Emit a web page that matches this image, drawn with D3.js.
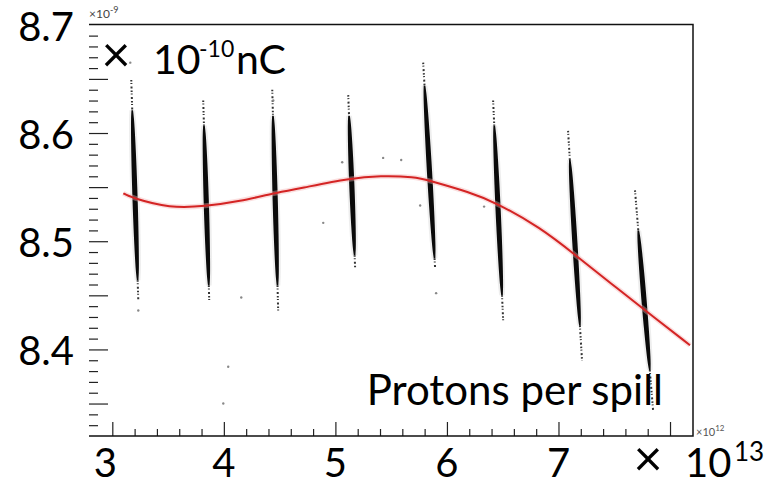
<!DOCTYPE html>
<html>
<head>
<meta charset="utf-8">
<script src="https://cdn.jsdelivr.net/npm/d3@7"></script>
<style>
  body { margin: 0; background: #fff; }
  svg { display: block; }
  text { font-family: Lato, "Open Sans", sans-serif; }
</style>
</head>
<body>
<div id="chart"></div>
<script>
// protons per spill (x 10^12) and charge (x 10^-9, shown as x 10^-10 nC)
// one band of spills per beam setting: centre at top / bottom of the band
const bandXTop = [31.7, 38.15, 44.34, 51.15, 57.87, 64.14, 70.86, 76.86];
const bandXBot = [32.33, 38.69, 44.87, 51.77, 58.94, 65.04, 72.11, 78.48];
// dense core of each band
const coreTop = [8.621, 8.607, 8.616, 8.616, 8.644, 8.607, 8.575, 8.510];
const coreBot = [8.464, 8.459, 8.459, 8.487, 8.484, 8.450, 8.422, 8.381];
// sparse tails
const tailTop = [8.649, 8.630, 8.640, 8.635, 8.665, 8.630, 8.602, 8.547];
const tailBot = [8.445, 8.445, 8.436, 8.475, 8.475, 8.427, 8.390, 8.344];

// stray spills
const strayX = [31.61, 44.43, 50.61, 54.28, 55.9, 48.91, 57.6, 59.03, 63.33, 40.39, 41.56, 32.33, 39.95];
const strayY = [8.665, 8.63, 8.573, 8.577, 8.575, 8.517, 8.533, 8.452, 8.532, 8.384, 8.448, 8.436, 8.35];

// red fit curve
const fitX = [30.99, 31.61, 35.2, 38.33, 41.47, 44.43, 46.85, 51.33, 54.01, 57.15, 58.32, 62.08, 64.32, 68.35, 71.67, 74.8, 77.76, 81.79];
const fitY = [8.5443, 8.5406, 8.5304, 8.5323, 8.5369, 8.5443, 8.5489, 8.5582, 8.5605, 8.5595, 8.5563, 8.5452, 8.536, 8.5129, 8.486, 8.4602, 8.4362, 8.4039];

// big overlay labels
const yLabels = [8.4, 8.5, 8.6, 8.7];
const xLabels = [3, 4, 5, 6, 7];
// ROOT axis ticks
const xMajor = [30, 40, 50, 60, 70, 80];
const yMajor = [8.35, 8.4, 8.45, 8.5, 8.55, 8.6, 8.65];

const width = 772, height = 486;

const svg = d3.select("#chart").append("svg")
    .attr("width", width)
    .attr("height", height);

svg.append("rect").attr("width", width).attr("height", height).attr("fill", "#fff");

const x = d3.scaleLinear().domain([28.0, 82.06]).range([90, 693]);
const y = d3.scaleLinear().domain([8.32, 8.7]).range([436, 24.8]);

const xMinor = d3.range(30, 81, 2).filter(v => !xMajor.includes(v));
const yMinor = d3.range(833, 870).map(v => v / 100).filter(v => !yMajor.some(m => Math.abs(m - v) < 1e-6));

// ---- axes (ROOT style, ticks inside) ----
function tickAxis(axis, vals, size, tr) {
    const g = svg.append("g")
        .attr("transform", tr)
        .call(axis.tickValues(vals).tickSize(size).tickFormat(""));
    g.select(".domain").remove();
    g.selectAll(".tick line").attr("stroke", "#222").attr("stroke-width", 1.2);
    return g;
}
tickAxis(d3.axisBottom(x), xMajor, -14, "translate(0,436)");
tickAxis(d3.axisBottom(x), xMinor, -7, "translate(0,436)");
tickAxis(d3.axisLeft(y), yMajor, -19, "translate(89,0)");
tickAxis(d3.axisLeft(y), yMinor, -9, "translate(89,0)");

// frame: top, right, bottom
svg.append("path")
    .attr("d", `M89,24.5H693V436H89`)
    .attr("fill", "none")
    .attr("stroke", "#111")
    .attr("stroke-width", 1.5);

// ---- bands of spills ----
const bands = bandXTop.map((xt, i) => ({
    xt, xb: bandXBot[i], ct: coreTop[i], cb: coreBot[i], tt: tailTop[i], tb: tailBot[i]
}));
// x position along a band for a given charge
function bandAt(b, v) {
    const t = (b.tt - v) / (b.tt - b.tb);
    return b.xt + (b.xb - b.xt) * t;
}

const bandG = svg.append("g");
const steps = d3.range(0, 1.0001, 0.05);
const area = d3.area()
    .curve(d3.curveBasis)
    .x0(d => d.px - d.w)
    .x1(d => d.px + d.w)
    .y(d => d.py);

bands.forEach(b => {
    const pts = steps.map(t => {
        const v = b.ct + (b.cb - b.ct) * t;
        return { px: x(bandAt(b, v)), py: y(v), w: 0.8 + 1.8 * Math.sqrt(Math.sin(Math.PI * t)) };
    });
    // grey halo
    bandG.append("path")
        .attr("d", area(pts.map(p => ({ ...p, w: p.w + 2 }))))
        .attr("fill", "#bbb")
        .attr("opacity", 0.25);
    // tails
    [[b.tt, b.ct], [b.cb, b.tb]].forEach(([a, c]) => {
        bandG.append("line")
            .attr("x1", x(bandAt(b, a))).attr("y1", y(a))
            .attr("x2", x(bandAt(b, c))).attr("y2", y(c))
            .attr("stroke", "#333")
            .attr("stroke-width", 2)
            .attr("stroke-dasharray", "1.5 1.5 1 2.5 2 2");
    });
    // dense core
    bandG.append("path")
        .attr("d", area(pts))
        .attr("fill", "#0a0a0a");
});

// stray spills
svg.append("g").selectAll("circle")
    .data(strayX.map((v, i) => [v, strayY[i]]))
    .join("circle")
    .attr("cx", d => x(d[0]))
    .attr("cy", d => y(d[1]))
    .attr("r", 1.2)
    .attr("fill", "#888");

// ---- fit ----
const line = d3.line()
    .curve(d3.curveBasis)
    .x(d => x(d[0]))
    .y(d => y(d[1]));
const fitPts = fitX.map((v, i) => [v, fitY[i]]);
svg.append("path")
    .attr("d", line(fitPts))
    .attr("fill", "none")
    .attr("stroke", "#f3b0b0")
    .attr("stroke-width", 5)
    .attr("opacity", 0.4);
svg.append("path")
    .attr("d", line(fitPts))
    .attr("fill", "none")
    .attr("stroke", "#d42424")
    .attr("stroke-width", 2);

// ---- texts ----
svg.append("text")
    .attr("x", 89).attr("y", 18)
    .attr("font-size", 12).attr("fill", "#444")
    .html('×10<tspan dy="-5" font-size="9">-9</tspan>');
svg.append("text")
    .attr("x", 696).attr("y", 436)
    .attr("font-size", 11).attr("fill", "#555")
    .html('×10<tspan dy="-5" font-size="8">12</tspan>');

svg.append("g").selectAll("text")
    .data(yLabels)
    .join("text")
    .attr("x", 74)
    .attr("y", d => y(d) + 16)
    .attr("text-anchor", "end")
    .attr("font-size", 40)
    .attr("fill", "#000")
    .text(d => d.toFixed(1));

svg.append("g").selectAll("text")
    .data(xLabels)
    .join("text")
    .attr("x", d => x(d * 10) - (d === 3 ? 7 : 0))
    .attr("y", 477)
    .attr("text-anchor", "middle")
    .attr("font-size", 40)
    .attr("fill", "#000")
    .text(d => d);

// multiplication signs, drawn larger than the digits
svg.append("text")
    .attr("x", 648).attr("y", 476)
    .attr("text-anchor", "middle")
    .attr("font-size", 50)
    .text("×");
svg.append("text")
    .attr("x", 116).attr("y", 72)
    .attr("text-anchor", "middle")
    .attr("font-size", 50)
    .text("×");

const unitX = svg.append("text").attr("y", 477).attr("font-size", 40).attr("fill", "#000");
unitX.append("tspan").attr("x", 685).text("10");
unitX.append("tspan").attr("x", 734).attr("y", 461).attr("font-size", 26).text("13");

const unitY = svg.append("text").attr("y", 74).attr("font-size", 41).attr("fill", "#000");
unitY.append("tspan").attr("x", 153).text("10");
unitY.append("tspan").attr("x", 199).attr("y", 57).attr("font-size", 23).text("-10");
unitY.append("tspan").attr("x", 236).attr("y", 74).text("nC");

svg.append("text")
    .attr("x", 663).attr("y", 405)
    .attr("text-anchor", "end")
    .attr("font-size", 42)
    .attr("fill", "#000")
    .text("Protons per spill");
</script>
</body>
</html>
